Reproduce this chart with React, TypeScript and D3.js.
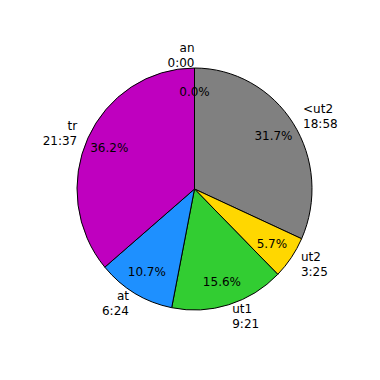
import React from 'react';
import * as d3 from 'd3';

const names = ['an', '<ut2', 'ut2', 'ut1', 'at', 'tr'];
const times = ['0:00', '18:58', '3:25', '9:21', '6:24', '21:37'];
const minutes = [0, 1138, 205, 561, 384, 1297];
const colors = ['#ffffff', '#808080', '#FFD700', '#32CD32', '#1E90FF', '#BF00BF'];

const W = 380, H = 380;
const cx = 194.5, cy = 189;
const R = 121;
const sx = 117.5 / 121;

export default function App() {
  const pie = d3.pie<number>().sort(null).value(d => d).startAngle(0).endAngle(2 * Math.PI);
  const arcs = pie(minutes);
  const total = d3.sum(minutes);
  const arcGen = d3.arc<d3.PieArcDatum<number>>().innerRadius(0).outerRadius(R);
  const pos = (a: number, r: number) => [cx + sx * r * R * Math.sin(a), cy - r * R * Math.cos(a)];
  return (
    <svg width={W} height={H} style={{ position: 'absolute', left: 0, top: 0, background: '#fff' }}
      fontFamily="DejaVu Sans" fontSize={12}>
      <g transform={`translate(${cx},${cy}) scale(${sx},1)`}>
        {arcs.map((a, i) => (
          <path key={i} d={arcGen(a) || ''} fill={colors[i]} stroke="#000" strokeWidth={1}
            vectorEffect="non-scaling-stroke" />
        ))}
      </g>
      {arcs.map((a, i) => {
        const mid = (a.startAngle + a.endAngle) / 2;
        const [px, py] = pos(mid, 0.8);
        const [lx, ly] = pos(mid, 1.1);
        const anchor = Math.sin(mid) > 1e-9 ? 'start' : 'end';
        const pct = d3.format('.1f')((minutes[i] / total) * 100) + '%';
        return (
          <g key={i}>
            <text x={px} y={py} textAnchor="middle" dominantBaseline="central" fill="#000">{pct}</text>
            <text x={lx} y={ly} textAnchor={anchor} dominantBaseline="central" fill="#000">
              <tspan x={lx} y={ly - 7.5}>{names[i]}</tspan>
              <tspan x={lx} y={ly + 7.5}>{times[i]}</tspan>
            </text>
          </g>
        );
      })}
    </svg>
  );
}
